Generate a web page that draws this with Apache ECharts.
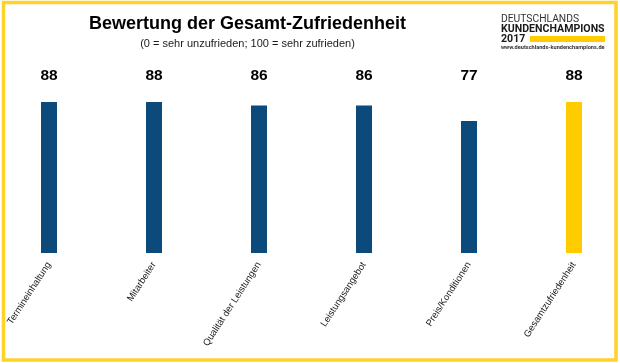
<!DOCTYPE html>
<html>
<head>
<meta charset="utf-8">
<script src="https://cdn.jsdelivr.net/npm/echarts@6/dist/echarts.min.js"></script>
<style>
html,body{margin:0;padding:0;background:#fff;}
#c{width:620px;height:363px;}
</style>
</head>
<body>
<div id="c"></div>
<script>
const categories = ['Termineinhaltung', 'Mitarbeiter', 'Qualität der Leistungen', 'Leistungsangebot', 'Preis/Konditionen', 'Gesamtzufriedenheit'];
const values = [88, 88, 86, 86, 77, 88];
const titleText = 'Bewertung der Gesamt-Zufriedenheit';
const subtitleText = '(0 = sehr unzufrieden; 100 = sehr zufrieden)';
const logoLines = ['DEUTSCHLANDS', 'KUNDENCHAMPIONS', '2017', 'www.deutschlands-kundenchampions.de'];

const BLUE = '#0b4a7a';
const YELLOW = '#ffcc00';
const FRAME = '#fdd22b';
const LABEL_LEVEL = 103.3;
const F = 'Liberation Sans, Arial, sans-serif';

const chart = echarts.init(document.getElementById('c'), null, {renderer: 'canvas'});
chart.setOption({
  animation: false,
  backgroundColor: '#fff',
  grid: {left: -3.5, right: -6.5, top: 81.5, bottom: 110, containLabel: false, outerBoundsMode: 'none'},
  xAxis: {
    type: 'category',
    data: categories,
    axisLine: {show: false},
    axisTick: {show: false},
    splitLine: {show: false},
    axisLabel: {interval: 0, rotate: 57, margin: 10, fontSize: 9.5, fontFamily: F, color: '#1a1a1a', padding: [0, 0, 0, 0]}
  },
  yAxis: {type: 'value', min: 0, max: 100, show: false, splitLine: {show: false}},
  series: [
    {
      type: 'bar',
      barWidth: 16,
      data: values.map((v, i) => ({value: v, itemStyle: {color: i === values.length - 1 ? YELLOW : BLUE}}))
    },
    {
      type: 'scatter',
      symbolSize: 0,
      clip: false,
      silent: true,
      itemStyle: {opacity: 1},
      data: values.map((v, i) => [i, LABEL_LEVEL]),
      label: {
        show: true, position: 'inside', opacity: 1,
        formatter: p => String(values[p.dataIndex]),
        fontFamily: F, fontSize: 15.5, fontWeight: 'bold', color: '#000'
      }
    }
  ],
  graphic: [
    {type: 'rect', shape: {x: 3.5, y: 2.5, width: 612.5, height: 357.5}, style: {fill: 'none', stroke: FRAME, lineWidth: 3.5}, silent: true},
    {type: 'text', x: 247.5, y: 24, style: {text: titleText, font: 'bold 18px ' + F, fill: '#000', textAlign: 'center', textVerticalAlign: 'middle'}},
    {type: 'text', x: 247.5, y: 43.5, style: {text: subtitleText, font: '11px ' + F, fill: '#1a1a1a', textAlign: 'center', textVerticalAlign: 'middle'}},
    {type: 'text', x: 501, y: 19.5, style: {text: logoLines[0], font: '10.3px Roboto', fill: '#333', textAlign: 'left', textVerticalAlign: 'middle'}},
    {type: 'text', x: 501, y: 29.5, style: {text: logoLines[1], font: 'bold 10.6px Roboto', fill: '#1a1a1a', textAlign: 'left', textVerticalAlign: 'middle'}},
    {type: 'text', x: 501, y: 39, style: {text: logoLines[2], font: 'bold 10.6px Roboto', fill: '#1a1a1a', textAlign: 'left', textVerticalAlign: 'middle'}},
    {type: 'rect', shape: {x: 530, y: 36, width: 75, height: 6}, style: {fill: YELLOW}},
    {type: 'text', x: 501, y: 48, style: {text: logoLines[3], font: 'bold 5.6px Roboto', fill: '#333', textAlign: 'left', textVerticalAlign: 'middle'}}
  ]
});
</script>
</body>
</html>
